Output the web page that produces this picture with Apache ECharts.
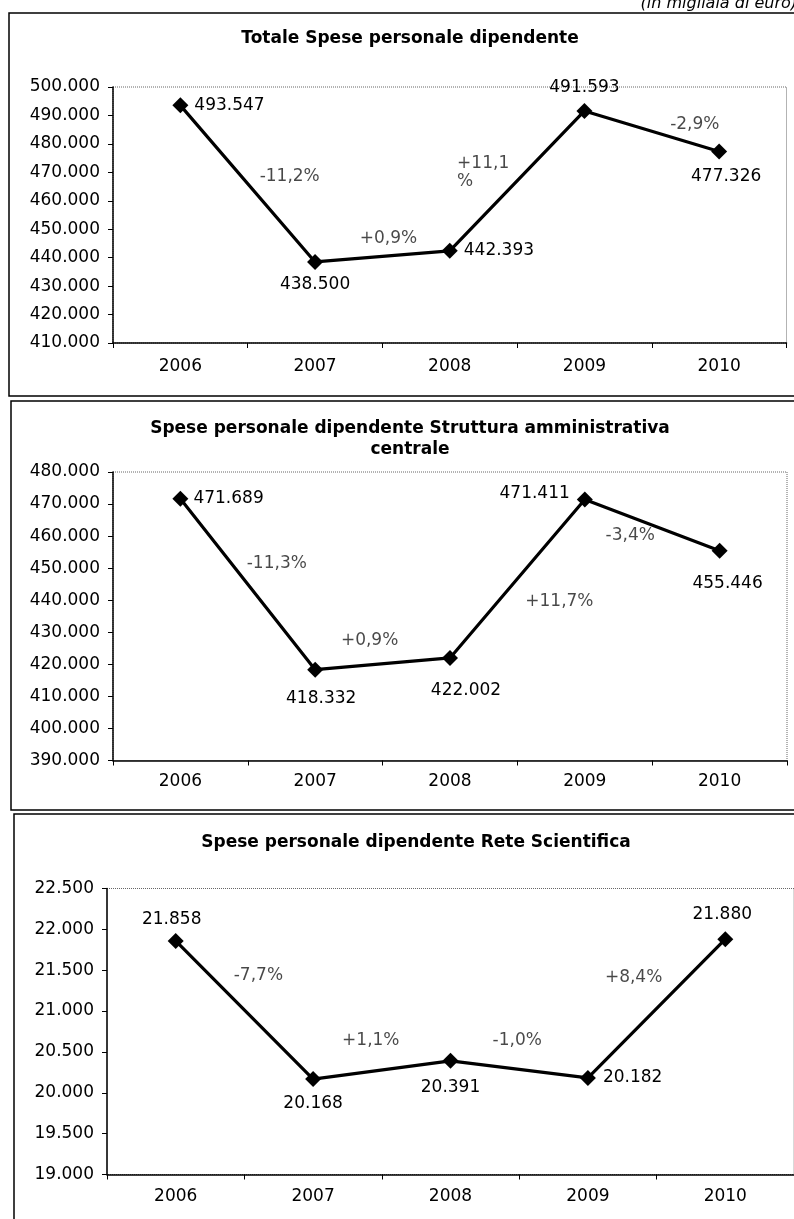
<!DOCTYPE html>
<html>
<head>
<meta charset="utf-8">
<title>Spese personale dipendente</title>
<script src="https://cdn.jsdelivr.net/npm/echarts/dist/echarts.min.js"></script>
<style>
  html, body { margin: 0; padding: 0; background: #fff; }
  #myChart { width: 794px; height: 1219px; }
</style>
</head>
<body>
<div id="myChart"></div>
<script>
// dati (in migliaia di euro)
const years = ['2006', '2007', '2008', '2009', '2010'];
const totale = [493547, 438500, 442393, 491593, 477326];
const struttura = [471689, 418332, 422002, 471411, 455446];
const rete = [21858, 20168, 20391, 20182, 21880];
const varTotale = ['-11,2%', '+0,9%', '+11,1\n%', '-2,9%'];
const varStruttura = ['-11,3%', '+0,9%', '+11,7%', '-3,4%'];
const varRete = ['-7,7%', '+1,1%', '-1,0%', '+8,4%'];
const titoli = [
  'Totale Spese personale dipendente',
  'Spese personale dipendente Struttura amministrativa\ncentrale',
  'Spese personale dipendente Rete Scientifica'
];
// assi y: min, max, passo
const yTotale = [410000, 500000, 10000];
const yStruttura = [390000, 480000, 10000];
const yRete = [19000, 22500, 500];

const FONT = 'DejaVu Sans';

// 500000 -> "500.000"
function fmt(v) {
  return String(v).replace(/\B(?=(\d{3})+(?!\d))/g, '.');
}

// posizione etichette dei valori (solo stile)
const lab1 = [
  { p: 'right', d: 6 }, { p: 'bottom', d: 6 }, { p: 'right', d: 6 },
  { p: 'top', d: 7 }, { p: 'bottom', d: 9, o: [7, 0] }
];
const lab2 = [
  { p: 'right', d: 5 }, { p: 'bottom', d: 12, o: [6, 0] }, { p: 'bottom', d: 16, o: [16, 0] },
  { p: 'left', d: 7, o: [0, -6] }, { p: 'bottom', d: 16, o: [8, 0] }
];
const lab3 = [
  { p: 'top', d: 5, o: [-4, 0] }, { p: 'bottom', d: 8 }, { p: 'bottom', d: 10 },
  { p: 'right', d: 7 }, { p: 'top', d: 8, o: [-3, 0] }
];
// spostamento delle etichette di variazione rispetto al centro del segmento
const off1 = [[42, -7], [6, -18], [-60, -8], [43, -7]];
const off2 = [[29, -21], [-13, -23], [42, 23], [-22, 10]];
const off3 = [[14, -34], [-11, -29], [-2, -29], [-23, -31]];

const grids = [
  { left: 113, right: 7.5, top: 87, height: 256 },
  { left: 113, right: 7, top: 472, height: 288.5 },
  { left: 107, width: 688, top: 888.5, height: 286 }
];

function makeGrid(g) {
  return Object.assign({
    show: true,
    borderColor: '#666',
    borderWidth: 1,
    borderType: 'dotted',
    backgroundColor: '#fff'
  }, g);
}

function catAxis(i, margin) {
  return {
    type: 'category',
    gridIndex: i,
    data: years,
    boundaryGap: true,
    axisLine: { onZero: false, lineStyle: { color: '#000', width: 1.5 } },
    axisTick: { show: true, length: 5, lineStyle: { color: '#000' } },
    axisLabel: { color: '#000', fontFamily: FONT, fontSize: 17, margin: margin }
  };
}

function hiddenAxis(i) {
  return { type: 'value', gridIndex: i, min: -0.5, max: 4.5, show: false };
}

function valAxis(i, t) {
  return {
    type: 'value',
    gridIndex: i,
    min: t[0],
    max: t[1],
    interval: t[2],
    axisLine: { show: true, onZero: false, lineStyle: { color: '#000', width: 1.5 } },
    axisTick: { show: true, length: 5, lineStyle: { color: '#000' } },
    splitLine: { show: false },
    axisLabel: {
      color: '#000', fontFamily: FONT, fontSize: 17, margin: 13,
      formatter: fmt
    }
  };
}

function lineSeries(i, values, lab) {
  return {
    type: 'line',
    xAxisIndex: i * 2,
    yAxisIndex: i,
    data: values.map(function (v, k) {
      const l = lab[k];
      return {
        value: v,
        label: { position: l.p, distance: l.d, offset: l.o || [0, 0] }
      };
    }),
    symbol: 'diamond',
    symbolSize: 16,
    itemStyle: { color: '#000' },
    lineStyle: { color: '#000', width: 3.2 },
    animation: false,
    label: {
      show: true,
      color: '#000',
      fontFamily: FONT,
      fontSize: 17,
      formatter: function (p) { return fmt(p.value); }
    },
    z: 3
  };
}

// etichette di variazione a meta' di ogni segmento
function varSeries(i, values, vars, off) {
  return {
    type: 'scatter',
    xAxisIndex: i * 2 + 1,
    yAxisIndex: i,
    symbolSize: 0,
    silent: true,
    animation: false,
    data: vars.map(function (t, k) {
      const multi = t.indexOf('\n') >= 0;
      return {
        value: [k + 0.5, (values[k] + values[k + 1]) / 2],
        name: t,
        label: { offset: off[k], align: multi ? 'left' : 'center' }
      };
    }),
    label: {
      show: true,
      position: 'inside',
      color: '#1a1a1a',
      fontFamily: FONT,
      fontSize: 17,
      lineHeight: 18,
      formatter: function (p) { return p.name; }
    },
    z: 4
  };
}

const myChart = echarts.init(document.getElementById('myChart'), null, { renderer: 'canvas' });

myChart.setOption({
  backgroundColor: '#fff',
  animation: false,
  title: [
    { text: titoli[0], left: 405, top: 23, textAlign: 'center' },
    { text: titoli[1], left: 405, top: 413, textAlign: 'center' },
    { text: titoli[2], left: 411, top: 827, textAlign: 'center' }
  ].map(function (t) {
    t.textStyle = { fontFamily: FONT, fontSize: 17, fontWeight: 'bold', color: '#000', lineHeight: 21 };
    return t;
  }),
  grid: grids.map(makeGrid),
  xAxis: [
    catAxis(0, 15), hiddenAxis(0),
    catAxis(1, 13), hiddenAxis(1),
    catAxis(2, 14), hiddenAxis(2)
  ],
  yAxis: [valAxis(0, yTotale), valAxis(1, yStruttura), valAxis(2, yRete)],
  series: [
    lineSeries(0, totale, lab1),
    varSeries(0, totale, varTotale, off1),
    lineSeries(1, struttura, lab2),
    varSeries(1, struttura, varStruttura, off2),
    lineSeries(2, rete, lab3),
    varSeries(2, rete, varRete, off3)
  ],
  graphic: [
    // cornici dei tre grafici
    { type: 'rect', shape: { x: 9, y: 13, width: 800, height: 383 }, style: { fill: null, stroke: '#000', lineWidth: 1.5 }, z: -1 },
    { type: 'rect', shape: { x: 11, y: 401, width: 800, height: 409 }, style: { fill: null, stroke: '#000', lineWidth: 1.5 }, z: -1 },
    { type: 'rect', shape: { x: 14, y: 814, width: 800, height: 420 }, style: { fill: null, stroke: '#000', lineWidth: 1.5 }, z: -1 },
    {
      type: 'text',
      x: 797,
      y: 4,
      style: {
        text: '(in migliaia di euro)',
        font: 'italic 16px "DejaVu Sans"',
        fill: '#000',
        textAlign: 'right',
        textVerticalAlign: 'middle'
      }
    }
  ]
});
</script>
</body>
</html>
